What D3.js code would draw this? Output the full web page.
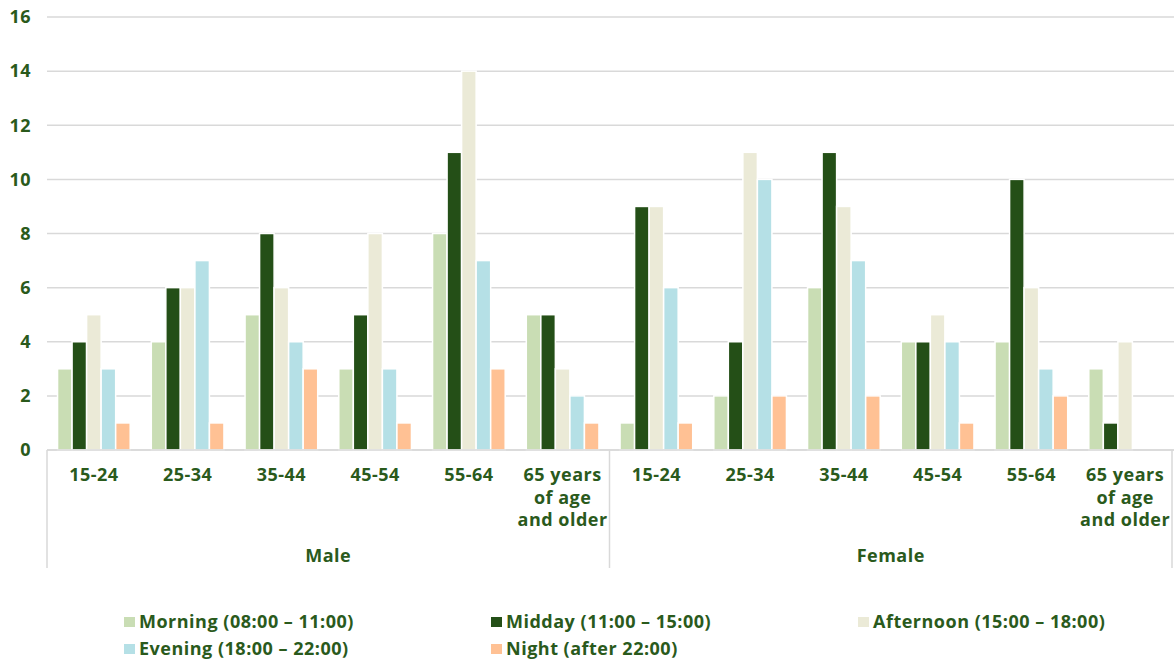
<!DOCTYPE html>
<html><head><meta charset="utf-8">
<script src="https://cdn.jsdelivr.net/npm/d3@7"></script>
<style>body{margin:0;background:#fff}svg text{font-family:"Open Sans",sans-serif;font-weight:700;fill:#2a5a1c;letter-spacing:0.5px}</style>
</head><body><svg id="c" width="1174" height="660"></svg>
<script>
const groups = ["Male","Female"];
const ageBands = ["15-24","25-34","35-44","45-54","55-64","65 years of age and older"];
const seriesNames = ["Morning (08:00 – 11:00)","Midday (11:00 – 15:00)","Afternoon (15:00 – 18:00)","Evening (18:00 – 22:00)","Night (after 22:00)"];
const colors = ["#c9ddb4","#244f17","#ebead7","#b5e0e6","#ffc194"];
const morning   = [3,4,5,3,8,5, 1,2,6,4,4,3];
const midday    = [4,6,8,5,11,5, 9,4,11,4,10,1];
const afternoon = [5,6,6,8,14,3, 9,11,9,5,6,4];
const evening   = [3,7,4,3,7,2, 6,10,7,4,3,0];
const night     = [1,1,3,1,3,1, 1,2,2,1,2,0];
const yTicks = [0,2,4,6,8,10,12,14,16];

const series = [morning,midday,afternoon,evening,night];
const cats = [];
groups.forEach(g=>ageBands.forEach(a=>cats.push(g+"|"+a)));

const svg = d3.select("#c");
const L=47, R=1172, T=17, B=450;
const x = d3.scaleBand().domain(cats).range([L,R]).paddingInner(0.225).paddingOuter(0.1125);
const xs = d3.scaleBand().domain(d3.range(5)).range([0,x.bandwidth()]).padding(0);
const y = d3.scaleLinear().domain([0,16]).range([B,T]);

// gridlines
svg.append("g").selectAll("line").data(yTicks).join("line")
  .attr("x1",L).attr("x2",1174).attr("y1",d=>y(d)).attr("y2",d=>y(d))
  .attr("stroke","#d9d9d9").attr("stroke-width",1.5);

// y labels
const ya = svg.append("g").attr("transform",`translate(${L},0)`)
  .call(d3.axisLeft(y).tickValues(yTicks).tickSize(0).tickPadding(16));
ya.select(".domain").remove();
ya.selectAll("text").attr("font-size",18).style("font-family","'Open Sans',sans-serif").style("font-weight",700).attr("fill","#2a5a1c");

// bars
series.forEach((vals,si)=>{
  svg.append("g").selectAll("rect").data(vals).join("rect")
    .attr("x",(d,i)=>x(cats[i])+xs(si))
    .attr("width",xs.bandwidth())
    .attr("y",d=>y(d)).attr("height",d=>y(0)-y(d))
    .attr("fill",colors[si]).attr("stroke","#fff").attr("stroke-width",1.5);
});

// axis baseline
svg.append("line").attr("x1",L).attr("x2",1174).attr("y1",B).attr("y2",B).attr("stroke","#d9d9d9").attr("stroke-width",1.5);
// group separators
const step = (R-L)/12;
[L, L+6*step, R].forEach(v=>{
  svg.append("line").attr("x1",v).attr("x2",v).attr("y1",B).attr("y2",568).attr("stroke","#d9d9d9").attr("stroke-width",1.5);
});

// category labels
const wrapMap = {"65 years of age and older":["65 years","of age","and older"]};
cats.forEach(c=>{
  const a = c.split("|")[1];
  const lines = wrapMap[a]||[a];
  const t = svg.append("text").attr("text-anchor","middle").attr("font-size",18)
    .attr("x",x(c)+x.bandwidth()/2).attr("y",481);
  lines.forEach((ln,i)=>t.append("tspan").attr("x",x(c)+x.bandwidth()/2).attr("dy",i?22.5:0).text(ln));
});
// group labels
groups.forEach((g,gi)=>{
  svg.append("text").attr("text-anchor","middle").attr("font-size",18)
    .attr("x",L+step*6*gi+step*3).attr("y",562).text(g);
});

// legend
const legPos = [[124,628],[491,628],[858,628],[124,655],[491,655]];
seriesNames.forEach((n,i)=>{
  const [lx,ly]=legPos[i];
  svg.append("rect").attr("x",lx).attr("y",ly-11).attr("width",11).attr("height",10).attr("fill",colors[i]);
  svg.append("text").attr("x",lx+15).attr("y",ly).attr("font-size",18).text(n);
});
</script></body></html>
